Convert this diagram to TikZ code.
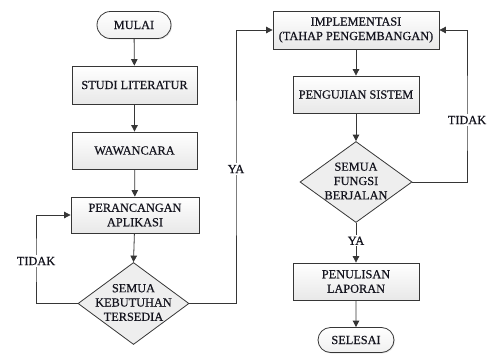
\documentclass[tikz,border=0pt]{standalone}
\usepackage{fontspec}
\setmainfont{Liberation Serif}
\newfontfamily\chartfont[FakeBold=0.5]{Liberation Serif}
\usetikzlibrary{shapes.geometric,shapes.misc,arrows.meta,shadows}

\definecolor{linegray}{HTML}{363636}
\definecolor{txt}{HTML}{14141E}

\tikzset{
  every node/.style={font=\chartfont\fontsize{12.3}{14.5}\selectfont, text=txt, inner sep=0pt},
  procbox/.style={rectangle, draw=linegray, line width=0.8pt,
    top color=white, bottom color=gray!18,
    drop shadow={opacity=0.18, shadow xshift=1pt, shadow yshift=-1pt},
    align=center},
  terminal/.style={rounded rectangle, draw=linegray, line width=0.8pt,
    top color=white, bottom color=gray!12,
    drop shadow={opacity=0.18, shadow xshift=1pt, shadow yshift=-1pt}},
  decision/.style={diamond, draw=linegray, line width=0.8pt, fill=gray!13,
    minimum width=111pt, minimum height=82pt, shape aspect=1.35},
  dectext/.style={align=center, font=\chartfont\fontsize{12.3}{14.3}\selectfont},
  lbl/.style={fill=white, inner sep=1.5pt},
  arr/.style={draw=linegray, line width=0.8pt, -{Triangle[length=6.5pt,width=6.5pt]}}
}

\begin{document}
\begin{tikzpicture}[x=1pt, y=-1pt]
  \useasboundingbox (0,0) rectangle (491,354);

  % left column
  \node[terminal, minimum width=74pt, minimum height=27pt] (mulai) at (134,25) {MULAI};
  \node[procbox, minimum width=125pt, minimum height=38pt] (studi) at (134.5,85) {STUDI LITERATUR};
  \node[procbox, minimum width=125pt, minimum height=37pt] (wawan) at (134.5,150.5) {WAWANCARA};
  \node[procbox, minimum width=128pt, minimum height=36pt] (peran) at (135,215) {PERANCANGAN\\APLIKASI};
  \node[decision] (d1) at (133.5,303.5) {};
  \node[dectext] (d1t) at (133.5,302.5) {SEMUA\\KEBUTUHAN\\TERSEDIA};

  % right column
  \node[procbox, minimum width=166pt, minimum height=38pt] (impl) at (356,30) {IMPLEMENTASI\\(TAHAP PENGEMBANGAN)};
  \node[procbox, minimum width=126pt, minimum height=37pt] (uji) at (356,94.5) {PENGUJIAN SISTEM};
  \node[decision, minimum width=112pt, minimum height=81pt] (d2) at (356,182) {};
  \node[dectext] (d2t) at (356,181) {SEMUA\\FUNGSI\\BERJALAN};
  \node[procbox, minimum width=126pt, minimum height=37pt] (tulis) at (356,281.5) {PENULISAN\\LAPORAN};
  \node[terminal, minimum width=76pt, minimum height=25pt] (selesai) at (356,340) {SELESAI};

  % bend points of the loops
  \coordinate (tl) at (36,261);
  \coordinate (ya) at (236,169);
  \coordinate (tr) at (467,120);

  % straight flow
  \draw[arr] (mulai) -- (studi);
  \draw[arr] (studi) -- (wawan);
  \draw[arr] (wawan) -- (peran);
  \draw[arr] (peran) -- (d1.north);
  \draw[arr] (impl) -- (uji);
  \draw[arr] (uji) -- (d2.north);
  \draw[arr] (d2.south) -- (tulis) node[lbl, pos=0.45] (ya2) {YA};
  \draw[arr] (tulis) -- (selesai);

  % loops
  \draw[arr] (d1.west) -| (tl) |- (peran.west);
  \node[lbl] (tidak1) at (tl) {TIDAK};
  \draw[arr] (d1.east) -| (ya) |- (impl.west);
  \node[lbl] (ya1) at (ya) {YA};
  \draw[arr] (d2.east) -| (tr) |- (impl.east);
  \node[lbl] (tidak2) at (tr) {TIDAK};
\end{tikzpicture}
\end{document}
